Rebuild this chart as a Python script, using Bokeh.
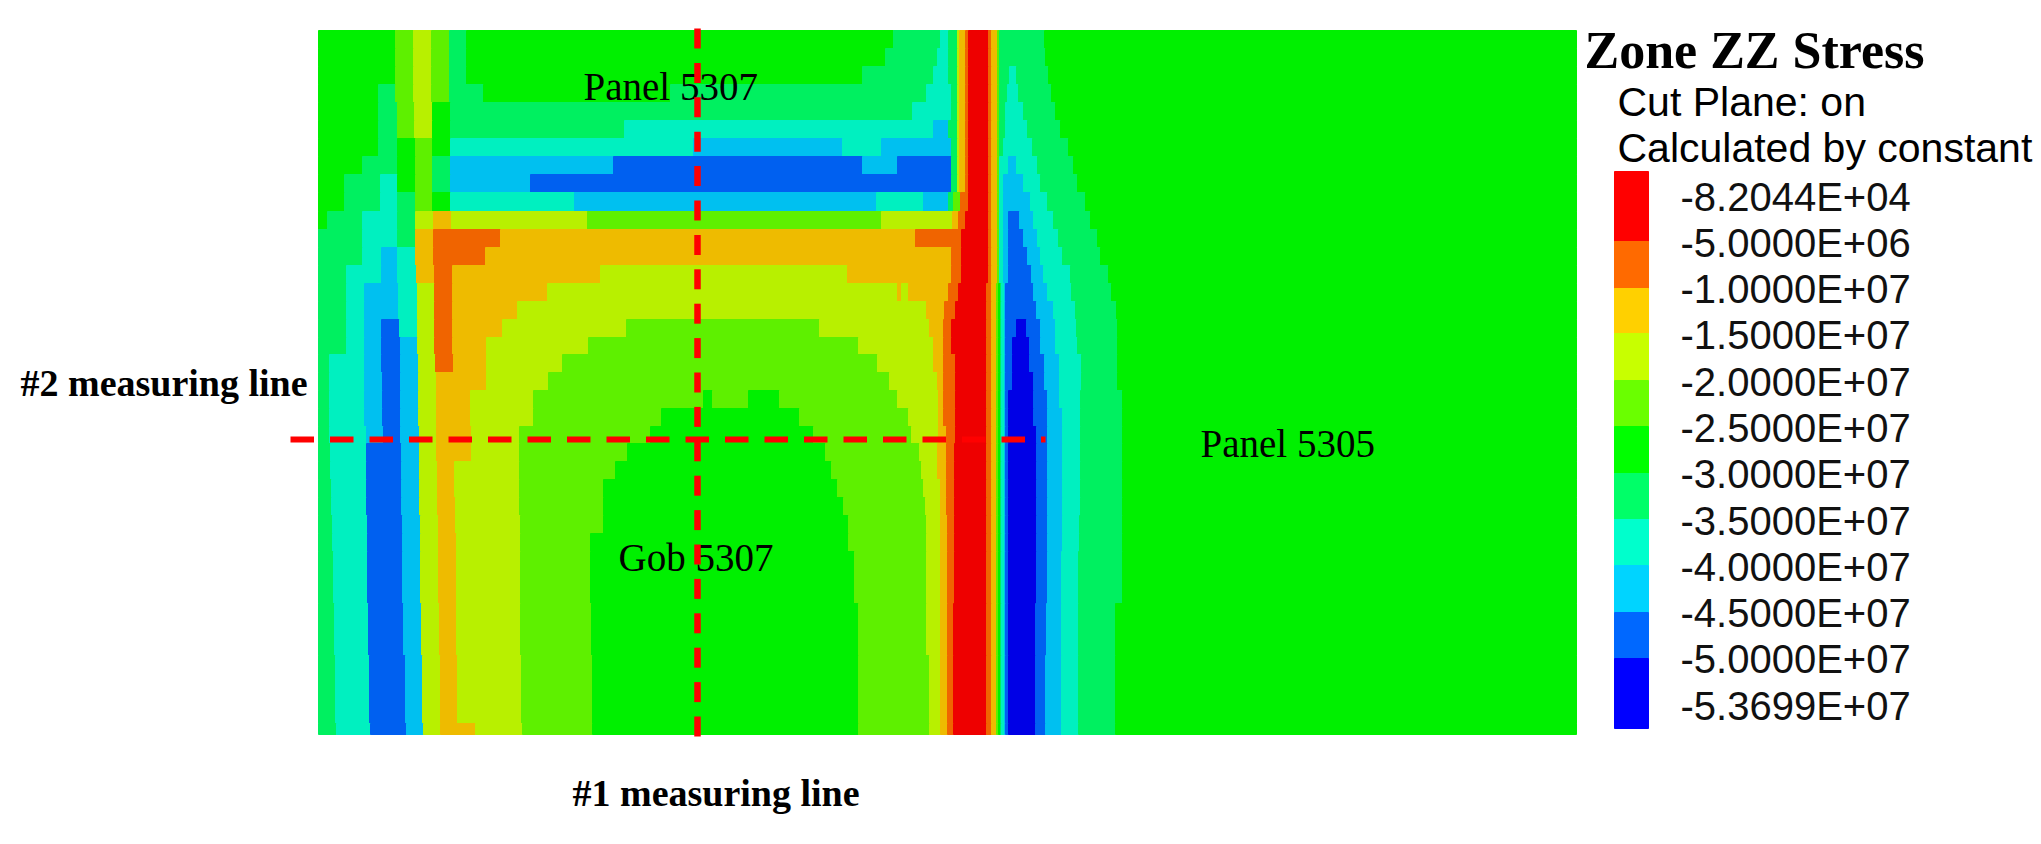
from bokeh.plotting import figure
from bokeh.models import ColumnDataSource, Range1d
from bokeh.embed import file_html
from bokeh.resources import INLINE
from bokeh.core.properties import value

# Stress level names (index into the palettes)
LEGEND_LABELS = ["-8.2044E+04", "-5.0000E+06", "-1.0000E+07", "-1.5000E+07", "-2.0000E+07",
                 "-2.5000E+07", "-3.0000E+07", "-3.5000E+07", "-4.0000E+07", "-4.5000E+07",
                 "-5.0000E+07", "-5.3699E+07"]
FIELD_COLORS = ["#ee0000", "#f06400", "#eebb00", "#b8f000", "#5ef000", "#00f000",
                "#00f060", "#00f0c0", "#00c0f0", "#0060f0", "#0000e6"]
LEGEND_COLORS = ["#ff0000", "#ff6a00", "#ffd000", "#c8ff00", "#6aff00", "#00ff00",
                 "#00ff68", "#00ffcc", "#00d4ff", "#0068ff", "#0000ff"]
LEGEND_EDGES = [171, 241, 288, 333, 380, 426, 473, 519, 565, 612, 658, 728]

# Field: row edges along y, and for each row (end of run, level) pairs
ROW_EDGES = [30, 48, 66, 84, 102, 120, 138, 156, 174, 192, 211, 229, 247, 265, 283, 301, 319, 337, 354,
             372, 390, 408, 426, 443, 461, 479, 497, 515, 533, 551, 603, 655, 723, 734]
PILLAR_TOP = [(959, 3), (965, 2), (968, 1), (988, 0), (991, 1), (997, 2), (999, 4)]
PILLAR_MID = [(988, 0), (991, 1), (997, 2), (999, 4)]
PILLAR_LOW = [(986, 0), (991, 1), (996, 2), (998, 4), (1000, 5), (1001, 6), (1004, 7)]
END = [(1576, 5)]
ROW_RUNS = [
    [(395,5),(413,4),(431,3),(449,4),(466,6),(893,5),(940,6),(948,7),(957,6)] + PILLAR_TOP + [(1044,6)] + END,
    [(395,5),(413,4),(431,3),(449,4),(466,6),(885,5),(937,6),(948,7),(957,6)] + PILLAR_TOP + [(1045,6)] + END,
    [(395,5),(413,4),(431,3),(449,4),(466,6),(862,5),(933,6),(948,7),(957,6)] + PILLAR_TOP + [(1009,6),(1016,7),(1048,6)] + END,
    [(378,5),(395,6),(413,4),(431,3),(449,4),(483,6),(670,5),(926,6),(951,7),(957,6)] + PILLAR_TOP + [(1007,6),(1018,7),(1051,6)] + END,
    [(378,5),(397,6),(414,4),(432,3),(450,5),(912,6),(951,7),(957,6)] + PILLAR_TOP + [(1005,6),(1023,7),(1055,6)] + END,
    [(378,5),(397,6),(414,4),(432,3),(450,5),(624,6),(933,7),(948,8),(957,6)] + PILLAR_TOP + [(1005,6),(1027,7),(1060,6)] + END,
    [(378,5),(397,6),(415,5),(432,4),(450,5),(693,7),(842,8),(881,7),(951,8),(957,6)] + PILLAR_TOP + [(1003,6),(1032,7),(1068,6)] + END,
    [(362,5),(397,6),(415,5),(432,4),(450,6),(613,8),(862,9),(897,8),(951,9),(957,6)] + PILLAR_TOP + [(1008,7),(1016,8),(1037,7),(1073,6)] + END,
    [(344,5),(380,6),(397,7),(415,5),(432,4),(450,6),(530,8),(951,9),(957,6)] + PILLAR_TOP + [(1003,7),(1023,8),(1040,7),(1077,6)] + END,
    [(344,5),(380,6),(397,7),(415,6),(432,4),(450,5),(574,7),(876,8),(923,7),(948,8),(953,6),(960,4),(968,1)] + PILLAR_MID + [(1003,7),(1030,8),(1047,7),(1085,6)] + END,
    [(327,5),(362,6),(397,7),(415,6),(433,3),(451,2),(587,3),(881,4),(952,3),(958,2),(965,1)] + PILLAR_MID + [(1003,7),(1008,8),(1019,9),(1033,8),(1053,7),(1090,6)] + END,
    [(362,6),(397,7),(415,6),(433,2),(500,1),(915,2),(961,1)] + PILLAR_MID + [(1003,7),(1008,8),(1023,9),(1037,8),(1058,7),(1097,6)] + END,
    [(362,6),(381,7),(397,8),(415,7),(433,2),(485,1),(951,2),(961,1)] + PILLAR_MID + [(1003,7),(1008,8),(1027,9),(1040,8),(1062,7),(1100,6)] + END,
    [(346,6),(381,7),(397,8),(416,7),(434,2),(452,1),(600,2),(847,3),(951,2),(961,1)] + PILLAR_MID + [(1003,7),(1008,8),(1031,9),(1043,8),(1070,7),(1108,6)] + END,
    [(346,6),(364,7),(398,8),(417,7),(434,3),(452,1),(547,2),(897,3),(901,2),(908,3),(948,2),(958,1)] + PILLAR_LOW + [(1005,8),(1033,9),(1047,8),(1071,7),(1111,6)] + END,
    [(346,6),(364,7),(398,8),(417,7),(434,3),(452,1),(517,2),(926,3),(944,2),(955,1)] + PILLAR_LOW + [(1005,8),(1036,9),(1053,8),(1075,7),(1116,6)] + END,
    [(346,6),(364,7),(381,8),(399,9),(417,7),(434,3),(452,1),(502,2),(626,3),(819,4),(929,3),(943,2),(951,1)] + PILLAR_LOW + [(1005,8),(1016,9),(1026,10),(1040,9),(1055,8),(1076,7),(1117,6)] + END,
    [(346,6),(364,7),(381,8),(400,9),(417,8),(434,3),(452,1),(486,2),(588,3),(858,4),(933,3),(943,2),(951,1)] + PILLAR_LOW + [(1005,8),(1012,9),(1029,10),(1040,9),(1055,8),(1077,7),(1117,6)] + END,
    [(329,6),(364,7),(381,8),(400,9),(418,8),(435,3),(453,1),(486,2),(562,3),(877,4),(933,3),(943,2),(955,1)] + PILLAR_LOW + [(1005,8),(1012,9),(1029,10),(1044,9),(1059,8),(1081,7),(1117,6)] + END,
    [(329,6),(364,7),(382,8),(400,9),(418,8),(436,3),(486,2),(548,3),(889,4),(937,3),(943,2),(955,1)] + PILLAR_LOW + [(1005,8),(1012,9),(1033,10),(1044,9),(1059,8),(1081,7),(1117,6)] + END,
    [(329,6),(364,7),(382,8),(400,9),(418,8),(436,3),(470,2),(533,3),(703,4),(712,5),(748,4),(779,5),(897,4),(938,3),(943,2),(955,1)] + PILLAR_LOW + [(1005,8),(1008,9),(1033,10),(1047,9),(1059,8),(1080,7),(1122,6)] + END,
    [(329,6),(364,7),(382,8),(400,9),(418,8),(436,3),(470,2),(533,3),(661,4),(799,5),(908,4),(938,3),(943,2),(955,1)] + PILLAR_LOW + [(1005,8),(1008,9),(1033,10),(1047,9),(1062,8),(1080,7),(1122,6)] + END,
    [(329,6),(366,7),(383,8),(400,9),(419,8),(436,3),(471,2),(519,3),(650,4),(813,5),(911,4),(938,3),(946,2),(955,1)] + PILLAR_LOW + [(1005,8),(1008,9),(1036,10),(1047,9),(1062,8),(1080,7),(1122,6)] + END,
    [(330,6),(366,7),(401,9),(419,8),(436,3),(471,2),(519,3),(627,4),(825,5),(919,4),(937,3),(946,2),(954,1)] + PILLAR_LOW + [(1005,8),(1008,9),(1036,10),(1047,9),(1062,8),(1080,7),(1122,6)] + END,
    [(330,6),(366,7),(401,9),(419,8),(437,3),(454,2),(519,3),(615,4),(831,5),(921,4),(937,3),(946,2),(954,1)] + PILLAR_LOW + [(1005,8),(1008,9),(1036,10),(1047,9),(1062,8),(1080,7),(1122,6)] + END,
    [(331,6),(366,7),(401,9),(419,8),(437,3),(454,2),(519,3),(603,4),(837,5),(923,4),(940,3),(946,2),(954,1)] + PILLAR_LOW + [(1005,8),(1008,9),(1036,10),(1047,9),(1062,8),(1080,7),(1122,6)] + END,
    [(331,6),(366,7),(401,9),(419,8),(437,3),(455,2),(519,3),(603,4),(843,5),(925,4),(940,3),(946,2),(954,1)] + PILLAR_LOW + [(1005,8),(1008,9),(1036,10),(1047,9),(1062,8),(1080,7),(1122,6)] + END,
    [(332,6),(367,7),(402,9),(420,8),(438,3),(455,2),(520,3),(603,4),(848,5),(926,4),(940,3),(947,2),(954,1)] + PILLAR_LOW + [(1005,8),(1008,9),(1036,10),(1047,9),(1062,8),(1079,7),(1122,6)] + END,
    [(332,6),(367,7),(402,9),(420,8),(438,3),(456,2),(520,3),(590,4),(848,5),(926,4),(940,3),(947,2),(954,1)] + PILLAR_LOW + [(1005,8),(1008,9),(1036,10),(1047,9),(1062,8),(1079,7),(1122,6)] + END,
    [(333,6),(367,7),(402,9),(420,8),(438,3),(456,2),(520,3),(590,4),(854,5),(926,4),(940,3),(947,2),(954,1)] + PILLAR_LOW + [(1005,8),(1008,9),(1036,10),(1047,9),(1061,8),(1078,7),(1122,6)] + END,
    [(334,6),(368,7),(403,9),(421,8),(439,3),(456,2),(520,3),(591,4),(858,5),(926,4),(940,3),(947,2),(953,1)] + PILLAR_LOW + [(1005,8),(1008,9),(1035,10),(1046,9),(1061,8),(1078,7),(1115,6)] + END,
    [(335,6),(369,7),(405,9),(422,8),(440,3),(457,2),(521,3),(592,4),(858,5),(929,4),(940,3),(947,2),(953,1)] + PILLAR_LOW + [(1005,8),(1008,9),(1035,10),(1045,9),(1061,8),(1078,7),(1115,6)] + END,
    [(336,6),(370,7),(406,9),(423,8),(440,3),(475,2),(522,3),(592,4),(858,5),(929,4),(940,3),(947,2),(953,1)] + PILLAR_LOW + [(1005,8),(1008,9),(1035,10),(1045,9),(1061,8),(1078,7),(1115,6)] + END,
]
FIELD_LEFT = 318

# Measuring lines
VLINE_X = 697
VLINE_Y = (28, 738)
HLINE_Y = 439
HLINE_X = (290, 1045)


def dashes(start, stop, dash, period):
    segs = []
    s = start
    while s < stop:
        segs.append((s, min(s + dash, stop)))
        s += period
    return segs


left, right, top, bottom, color = [], [], [], [], []
for r, runs in enumerate(ROW_RUNS):
    start = FIELD_LEFT
    for end, level in runs:
        left.append(start); right.append(end)
        top.append(ROW_EDGES[r]); bottom.append(ROW_EDGES[r + 1])
        color.append(FIELD_COLORS[level])
        start = end
field = ColumnDataSource(dict(left=left, right=right, top=top, bottom=bottom, color=color))

p = figure(width=2041, height=844, output_backend="svg", toolbar_location=None,
           x_range=Range1d(0, 2041), y_range=Range1d(844, 0),
           min_border=0, outline_line_color=None, background_fill_color="white")
p.axis.visible = False
p.grid.visible = False

p.quad(left="left", right="right", top="top", bottom="bottom", source=field,
       fill_color="color", line_color="color", line_width=1)

# Colour key
n = len(LEGEND_COLORS)
p.quad(left=[1614] * n, right=[1648] * n, top=LEGEND_EDGES[:-1], bottom=LEGEND_EDGES[1:],
       fill_color=LEGEND_COLORS, line_color=LEGEND_COLORS, line_width=1)
LEGEND_SIZE = 40
p.text(x=[1680] * len(LEGEND_LABELS),
       y=[210 + 46.27 * i - 0.3465 * LEGEND_SIZE for i in range(len(LEGEND_LABELS))],
       text=LEGEND_LABELS, text_font=value("Liberation Sans"), text_font_size=f"{LEGEND_SIZE}px",
       text_color="#111111", text_baseline="middle", text_align="left")


def label(x, baseline, s, font="Liberation Serif", size=39, style="normal"):
    p.text(x=[x], y=[baseline - 0.3465 * size], text=[s], text_font=value(font),
           text_font_size=f"{size}px", text_font_style=style, text_color="black",
           text_baseline="middle", text_align="left")


label(1584, 68, "Zone ZZ Stress", size=52, style="bold")
label(1617, 116, "Cut Plane: on", font="Liberation Sans", size=41)
label(1617, 162, "Calculated by constant", font="Liberation Sans", size=41)
label(583, 100, "Panel 5307")
label(1200, 457, "Panel 5305")
label(618, 571, "Gob 5307")
label(572, 806, "#1 measuring line", size=38, style="bold")
label(20, 396, "#2 measuring line", size=38, style="bold")

v = dashes(VLINE_Y[0], VLINE_Y[1], 20, 34.4)
p.multi_line([[VLINE_X, VLINE_X] for _ in v], [list(s) for s in v],
             line_color="#ff0000", line_width=6.5, line_cap="butt")
h = dashes(HLINE_X[0], HLINE_X[1], 23.5, 39.5)
p.multi_line([list(s) for s in h], [[HLINE_Y, HLINE_Y] for _ in h],
             line_color="#ff0000", line_width=6, line_cap="butt")

open("out.html", "w").write(file_html(p, INLINE))
